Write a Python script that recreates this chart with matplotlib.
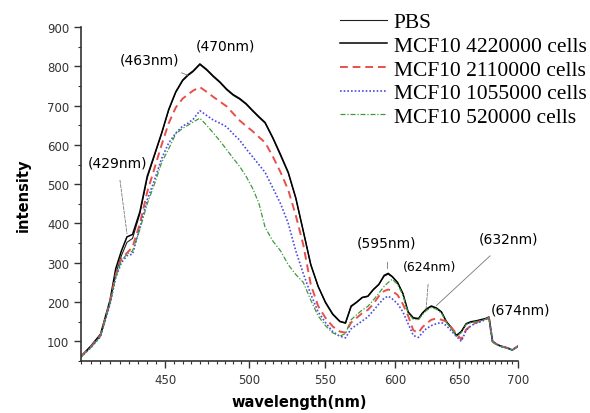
import matplotlib
matplotlib.use("Agg")
import matplotlib.pyplot as plt
from matplotlib.ticker import FixedLocator, FuncFormatter, NullFormatter

# wavelength grid (nm)
wl = [405, 410, 415, 420, 423, 426, 429, 432, 436, 440, 444, 448, 452, 456,
      460, 463, 466, 470, 474, 478, 482, 486, 490, 494, 498, 502, 506, 510,
      515, 520, 525, 530, 535, 540, 545, 550, 555, 560, 564, 568, 572, 576,
      580, 584, 588, 592, 595, 598, 602, 606, 610, 614, 618, 621, 624, 628,
      632, 636, 640, 644, 648, 652, 656, 660, 664, 668, 672, 675, 678, 682,
      686, 690, 695, 700]

pbs = [62, 86, 114, 198, 272, 318, 352, 362, 425, 515, 572, 628, 688, 733,
       763, 776, 786, 804, 790, 773, 758, 740, 726, 716, 703, 686, 670, 655,
       616, 572, 528, 463, 380, 296, 240, 198, 168, 150, 146, 188, 199, 211,
       214, 231, 244, 266, 271, 264, 249, 221, 174, 159, 157, 171, 181, 189,
       184, 174, 149, 134, 114, 124, 144, 149, 151, 154, 157, 161, 99, 91,
       86, 83, 78, 87]

c4220000 = [62, 88, 118, 205, 285, 330, 366, 372, 430, 520, 575, 630, 690, 735,
            765, 778, 788, 806, 792, 775, 760, 742, 728, 718, 705, 688, 672, 657,
            618, 575, 530, 465, 380, 295, 240, 200, 170, 151, 147, 190, 200, 212,
            215, 232, 245, 268, 273, 265, 250, 222, 175, 160, 158, 172, 182, 190,
            185, 175, 150, 135, 115, 125, 145, 150, 152, 155, 158, 162, 100, 92,
            87, 84, 78, 88]

c2110000 = [62, 86, 115, 200, 270, 310, 325, 340, 400, 480, 540, 600, 655, 695,
            718, 728, 738, 747, 735, 722, 710, 698, 680, 662, 648, 635, 620, 606,
            570, 530, 485, 420, 345, 245, 190, 160, 138, 125, 122, 148, 160, 172,
            180, 195, 215, 228, 232, 228, 218, 195, 165, 128, 122, 136, 145, 155,
            158, 155, 150, 135, 120, 105, 130, 140, 148, 152, 156, 160, 100, 92,
            87, 84, 78, 88]

c1055000 = [60, 84, 112, 195, 262, 300, 318, 322, 390, 460, 510, 565, 605, 630,
            648, 655, 665, 687, 675, 663, 655, 646, 628, 612, 590, 570, 550, 530,
            490, 450, 400, 330, 272, 220, 175, 148, 125, 113, 109, 132, 142, 152,
            162, 178, 195, 210, 215, 208, 196, 175, 145, 115, 110, 122, 132, 140,
            145, 148, 140, 126, 113, 100, 128, 140, 146, 150, 155, 160, 100, 92,
            87, 84, 78, 88]

c520000 = [60, 84, 113, 198, 265, 305, 322, 330, 385, 450, 500, 555, 590, 628,
           642, 650, 658, 668, 650, 630, 610, 588, 566, 545, 520, 490, 452, 390,
           355, 330, 295, 270, 250, 205, 165, 140, 122, 113, 120, 155, 168, 180,
           189, 205, 222, 240, 250, 258, 245, 218, 172, 156, 155, 168, 178, 186,
           182, 172, 148, 133, 113, 122, 143, 148, 150, 153, 156, 160, 98, 90,
           86, 83, 78, 87]

labels = ["PBS", "MCF10 4220000 cells", "MCF10 2110000 cells",
          "MCF10 1055000 cells", "MCF10 520000 cells"]

xticks = [450, 500, 550, 600, 650, 700]
yticks = [100, 200, 300, 400, 500, 600, 700, 800, 900]

fig = plt.figure(figsize=(5.9, 4.14), dpi=100)
ax = fig.add_axes([0.1373, 0.1256, 0.7407, 0.8068])

ax.plot(wl, pbs, color="#222222", lw=0.8, label=labels[0])
ax.plot(wl, c4220000, color="black", lw=1.1, label=labels[1])
ax.plot(wl, c2110000, color="#e8504a", lw=1.4, ls=(0, (4, 2.5)), label=labels[2])
ax.plot(wl, c1055000, color="#4b4be0", lw=1.2, ls=(0, (1, 1.2)), label=labels[3])
ax.plot(wl, c520000, color="#3f9a3f", lw=0.9, ls=(0, (4, 1.5, 1, 1.5)), label=labels[4])

ax.set_xscale("log")
ax.set_xlim(405, 700)
ax.set_ylim(50, 900)
ax.xaxis.set_major_locator(FixedLocator(xticks))
ax.xaxis.set_major_formatter(FuncFormatter(lambda v, p: "%d" % v))
ax.xaxis.set_minor_locator(FixedLocator(range(405, 701, 5)))
ax.xaxis.set_minor_formatter(NullFormatter())
ax.yaxis.set_major_locator(FixedLocator(yticks))
ax.yaxis.set_minor_locator(FixedLocator(range(50, 901, 50)))

for s in ["top", "right"]:
    ax.spines[s].set_visible(False)
for s in ["left", "bottom"]:
    ax.spines[s].set_linewidth(1.2)
    ax.spines[s].set_color("#333333")
ax.tick_params(which="major", direction="out", length=5, width=1, labelsize=8.5,
               colors="#333333")
ax.tick_params(which="minor", direction="out", length=2.5, width=0.8, colors="#333333")

ax.set_xlabel("wavelength(nm)", fontsize=10.5, fontweight="bold", labelpad=6)
ax.set_ylabel("intensity", fontsize=10.5, fontweight="bold", labelpad=12)

# peak annotations
grey = "#777777"
ax.annotate("(463nm)", xy=(463, 777), xytext=(441, 816), fontsize=10,
            ha="center", va="center",
            arrowprops=dict(arrowstyle="-", color=grey, lw=0.6, shrinkA=6, shrinkB=0))
ax.annotate("(470nm)", xy=(470.5, 811), xytext=(485, 852), fontsize=10,
            ha="center", va="center")
ax.annotate("(429nm)", xy=(429, 374), xytext=(424, 556), fontsize=10,
            ha="center", va="center",
            arrowprops=dict(arrowstyle="-", color=grey, lw=0.6, ls="--",
                            shrinkA=6, shrinkB=0))
ax.annotate("(595nm)", xy=(594.5, 285), xytext=(594, 351), fontsize=10,
            ha="center", va="center",
            arrowprops=dict(arrowstyle="-", color=grey, lw=0.6, shrinkA=7, shrinkB=0))
ax.annotate("(624nm)", xy=(623.8, 180), xytext=(626.6, 290), fontsize=9,
            ha="center", va="center",
            arrowprops=dict(arrowstyle="-", color=grey, lw=0.6, ls="--",
                            shrinkA=6, shrinkB=0))
ax.annotate("(632nm)", xy=(632, 191), xytext=(692, 362), fontsize=10,
            ha="center", va="center",
            arrowprops=dict(arrowstyle="-", color=grey, lw=0.6, shrinkA=8, shrinkB=0))
ax.text(702.6, 181, "(674nm)", fontsize=10, ha="center", va="center")

leg = ax.legend(loc="upper left", bbox_to_anchor=(340 / 590, 1 - 13 / 414),
                bbox_transform=fig.transFigure, frameon=False, borderpad=0,
                borderaxespad=0, handlelength=2.2, handletextpad=0.3,
                labelspacing=0.17,
                prop={"family": "Liberation Serif", "size": 15.5})

fig.savefig("out.png", dpi=100)
